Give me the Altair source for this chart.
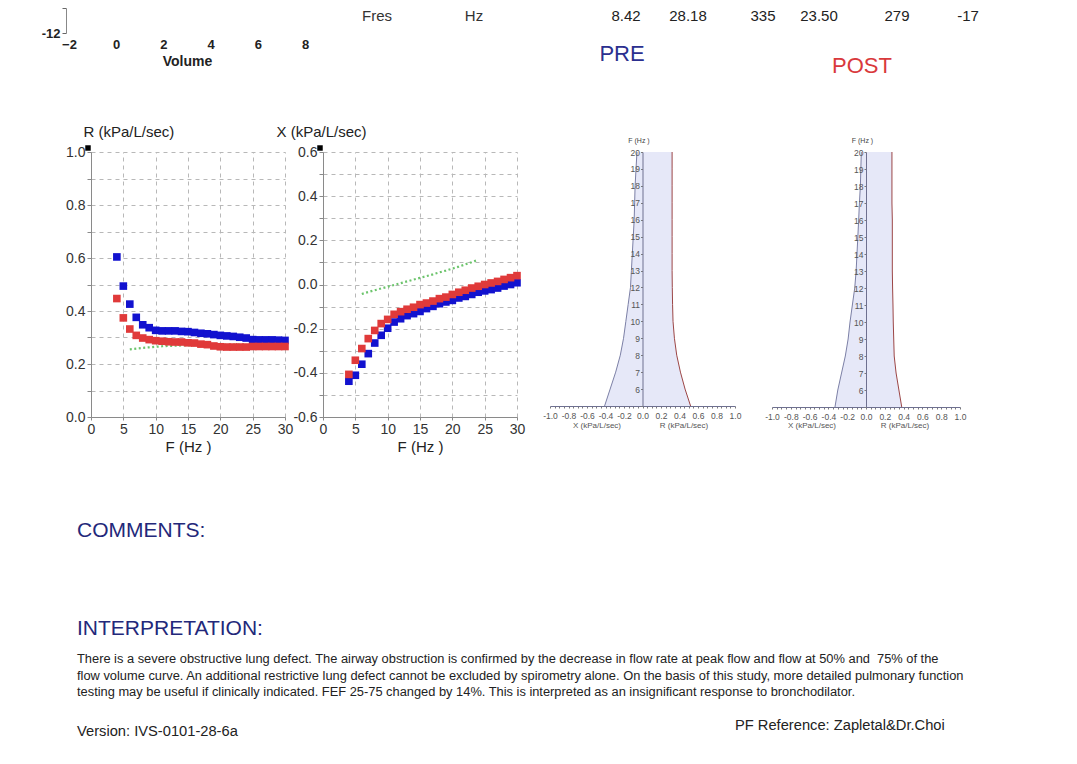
import altair as alt
import pandas as pd

W, H = 1061, 748
FONT = "Liberation Sans"

# ---------------- data ----------------
freq = list(range(4, 31))
r_pre = [0.604, 0.494, 0.426, 0.376, 0.348, 0.337, 0.327, 0.325, 0.325, 0.325, 0.323, 0.322, 0.319, 0.316,
         0.314, 0.311, 0.308, 0.306, 0.304, 0.301, 0.298, 0.292, 0.291, 0.291, 0.291, 0.290, 0.289]
r_post = [0.447, 0.374, 0.332, 0.308, 0.298, 0.292, 0.288, 0.286, 0.284, 0.283, 0.283, 0.280, 0.279, 0.275,
          0.273, 0.268, 0.265, 0.264, 0.264, 0.264, 0.264, 0.266, 0.266, 0.266, 0.266, 0.266, 0.266]
x_pre = [-0.438, -0.411, -0.361, -0.313, -0.265, -0.230, -0.198, -0.170, -0.155, -0.141, -0.132, -0.122, -0.109,
         -0.099, -0.087, -0.079, -0.072, -0.061, -0.054, -0.045, -0.035, -0.029, -0.023, -0.016, -0.007, 0.000, 0.008]
x_post = [-0.407, -0.343, -0.290, -0.245, -0.208, -0.177, -0.158, -0.135, -0.123, -0.112, -0.103, -0.091, -0.084,
          -0.075, -0.064, -0.057, -0.045, -0.035, -0.026, -0.016, -0.008, 0.000, 0.007, 0.014, 0.023, 0.031, 0.040]

pred_freq = list(range(6, 25))
r_pred = [0.255, 0.258, 0.261, 0.263, 0.265, 0.267, 0.268, 0.269, 0.270, 0.270, 0.271, 0.271, 0.272, 0.272,
          0.272, 0.273, 0.273, 0.273, 0.274]
x_pred = [-0.043, -0.034, -0.026, -0.018, -0.010, -0.002, 0.006, 0.014, 0.022, 0.030, 0.038, 0.046, 0.055,
          0.063, 0.072, 0.081, 0.091, 0.101, 0.112]

zone_freq = list(range(5, 21))
pre_x_edge = [-0.41, -0.35, -0.29, -0.24, -0.205, -0.18, -0.155, -0.13, -0.12, -0.11, -0.10, -0.09, -0.085,
              -0.08, -0.07, -0.06]
pre_r_edge = [0.52, 0.46, 0.41, 0.37, 0.345, 0.33, 0.325, 0.322, 0.32, 0.32, 0.32, 0.32, 0.32, 0.32, 0.32, 0.32]
post_x_edge = [-0.33, -0.30, -0.26, -0.22, -0.19, -0.17, -0.145, -0.12, -0.105, -0.096, -0.087, -0.078, -0.07,
               -0.06, -0.055, -0.05]
post_r_edge = [0.38, 0.35, 0.32, 0.30, 0.295, 0.29, 0.287, 0.283, 0.28, 0.28, 0.28, 0.28, 0.276, 0.276, 0.276, 0.276]

volume_ticks = [-2, 0, 2, 4, 6, 8]
flow_ticks = [-12, -11]

header_names = ["Fres", "Hz"]
header_values = ["8.42", "28.18", "335", "23.50", "279", "-17"]
NB = "\u00a0"
interp_lines = [
    NB + "There is a severe obstructive lung defect. The airway obstruction is confirmed by the decrease in flow rate at peak flow and flow at 50% and" + NB + " 75% of the",
    "flow volume curve. An additional restrictive lung defect cannot be excluded by spirometry alone. On the basis of this study, more detailed pulmonary function",
    "testing may be useful if clinically indicated. FEF 25-75 changed by 14%. This is interpreted as an insignificant response to bronchodilator.",
]

BLUE = "#1212cf"
RED = "#e03a3a"
GREEN = "#6cc46c"

series_df_r = pd.DataFrame({"F": freq * 2, "v": r_pre + r_post, "series": ["PRE"] * len(freq) + ["POST"] * len(freq)})
series_df_x = pd.DataFrame({"F": freq * 2, "v": x_pre + x_post, "series": ["PRE"] * len(freq) + ["POST"] * len(freq)})
pred_df_r = pd.DataFrame({"F": pred_freq, "v": r_pred})
pred_df_x = pd.DataFrame({"F": pred_freq, "v": x_pred})

MINUS = "replace(format(datum.value, '.1f'), '\u2212', '-')"
FREQ_TICKS = [0, 5, 10, 15, 20, 25, 30]


def fx_chart(sdf, pdf, ydomain, xrange, yvals, ytitle, ytitle_x, corner):
    xs = alt.Scale(domain=[0, 30], range=xrange, nice=False, zero=False)
    ys = alt.Scale(domain=ydomain, range=[409, 144], nice=False, zero=False)
    common = dict(labelFont=FONT, labelFontSize=14, labelColor="#333", domainColor="#8a8a8a",
                  tickColor="#8a8a8a", gridDash=[4, 4], gridColor="#b8b8b8",
                  labelOverlap=False, labelFlush=False, labelBound=False,
                  titleFont=FONT, titleFontWeight="normal", titleColor="#222")
    xax = alt.Axis(orient="bottom", offset=-(H - 409), values=FREQ_TICKS, tickSize=3, grid=False,
                   labelPadding=2, title="F (Hz )", titleFontSize=15, titleY=29, titleBaseline="middle",
                   **common)
    xgrid = alt.Axis(orient="top", offset=-144, values=FREQ_TICKS, grid=True, labels=False, ticks=False,
                     domain=False, title=None, gridDash=[4, 4], gridColor="#b8b8b8")
    yax = alt.Axis(orient="left", offset=-xrange[0], values=yvals, tickSize=4, labelPadding=2, grid=True,
                   labelExpr="abs(round(datum.value*10)) % 2 == 0 ? " + MINUS + " : ''",
                   title=ytitle, titleAngle=0, titleAlign="left", titleBaseline="middle",
                   titleX=ytitle_x, titleY=123, titleFontSize=15, **common)
    pred = alt.Chart(pdf).mark_line(color=GREEN, strokeDash=[2, 2.5], strokeWidth=2.2).encode(
        x=alt.X("F:Q", scale=xs, axis=xgrid), y=alt.Y("v:Q", scale=ys, axis=yax))
    pts = alt.Chart(sdf).mark_square(size=58, opacity=1).encode(
        x=alt.X("F:Q", scale=xs, axis=xax), y=alt.Y("v:Q", scale=ys, axis=yax),
        color=alt.Color("series:N", scale=alt.Scale(domain=["PRE", "POST"], range=[BLUE, RED]), legend=None))
    mk = alt.Chart(pd.DataFrame({"F": [0], "v": [corner]})).mark_square(
        size=30, color="black", opacity=1, xOffset=-3, yOffset=-4).encode(
        x=alt.X("F:Q", scale=xs, axis=None), y=alt.Y("v:Q", scale=ys, axis=yax))
    return alt.layer(pred, pts, mk).resolve_axis(x="independent")


r_chart = fx_chart(series_df_r, pred_df_r, [0, 1.0], [83, 277], [i / 10 for i in range(0, 11)],
                   "R (kPa/L/sec)", -8, 1.0)
x_chart = fx_chart(series_df_x, pred_df_x, [-0.6, 0.6], [315, 509], [i / 10 for i in range(-6, 7)],
                   "X (kPa/L/sec)", -47, 0.6)


def zone_panel(xedge, redge, xrange, y0):
    zdf = pd.DataFrame({"F": zone_freq, "xe": xedge, "re": redge})
    xs = alt.Scale(domain=[-1, 1], range=xrange, nice=False, zero=False)
    ys = alt.Scale(domain=[5, 20], range=[y0, 144], nice=False, zero=False)
    zero_px = (xrange[0] + xrange[1]) / 2
    common = dict(labelFont=FONT, labelFontSize=8.5, labelColor="#555", domainColor="#6e7090",
                  tickColor="#7a7a7a", tickSize=2, grid=False, labelOverlap=False, labelFlush=False,
                  labelBound=False, titleFont=FONT, titleFontWeight="normal", titleColor="#444", zindex=1)
    xax = alt.Axis(orient="bottom", offset=-(H - y0), values=[round(-1 + 0.05 * i, 2) for i in range(41)],
                   labelExpr="abs(round(datum.value*20)) % 4 == 0 ? " + MINUS + " : ''",
                   labelPadding=3, title=None, **common)
    yax = alt.Axis(orient="left", offset=-zero_px, values=zone_freq, labelPadding=1,
                   labelExpr="datum.value >= 6 ? datum.label : ''",
                   title="F (Hz )", titleAngle=0, titleAlign="center", titleBaseline="middle",
                   titleX=-4, titleY=132, titleFontSize=7, **common)
    area = alt.Chart(zdf).mark_area(orient="horizontal", color="#e6e8f8", opacity=1).encode(
        y=alt.Y("F:Q", scale=ys, axis=yax), x=alt.X("xe:Q", scale=xs, axis=xax), x2="re:Q")
    left = alt.Chart(zdf).mark_line(color="#7c80a6", strokeWidth=1).encode(
        y=alt.Y("F:Q", scale=ys, axis=yax), x=alt.X("xe:Q", scale=xs, axis=xax), order="F:Q")
    right = alt.Chart(zdf).mark_line(color="#9c4646", strokeWidth=1).encode(
        y=alt.Y("F:Q", scale=ys, axis=yax), x=alt.X("re:Q", scale=xs, axis=xax), order="F:Q")
    return alt.layer(area, left, right)


pre_panel = zone_panel(pre_x_edge, pre_r_edge, [542, 727], 398)
post_panel = zone_panel(post_x_edge, post_r_edge, [764, 952], 399)

# partial flow-volume chart at the very top (cut off)
vol_df = pd.DataFrame({"Volume": [volume_ticks[0], volume_ticks[-1]], "Flow": [flow_ticks[0], flow_ticks[0]]})
vxs = alt.Scale(domain=[-2, 8], range=[61, 297], nice=False, zero=False)
vys = alt.Scale(domain=[-12, -11], range=[25, 0], nice=False, zero=False)
vol_chart = alt.Chart(vol_df).mark_point(opacity=0).encode(
    x=alt.X("Volume:Q", scale=vxs, axis=alt.Axis(
        orient="bottom", offset=-(H - 25), values=volume_ticks, domain=False, ticks=False, grid=False,
        labelFont=FONT, labelFontSize=13, labelFontWeight="bold", labelColor="#222", labelPadding=5,
        labelFlush=False, labelOverlap=False, title="Volume", titleFont=FONT, titleFontSize=14,
        titleFontWeight="bold", titleColor="#222", titleY=28, titleBaseline="middle")),
    y=alt.Y("Flow:Q", scale=vys, axis=alt.Axis(
        orient="left", offset=-58, values=flow_ticks, grid=False, domainColor="#888", tickColor="#666",
        tickSize=4, labelFont=FONT, labelFontSize=13, labelFontWeight="bold", labelColor="#222",
        labelPadding=2, labelExpr="datum.value == -12 ? '-12' : ''", labelFlush=False, title=None)),
)


def label(text, x, y, size, color="#222", align="center", weight="normal", line_height=None):
    kw = dict(text=text, align=align, baseline="middle", fontSize=size, color=color, font=FONT,
              fontWeight=weight)
    if line_height is not None:
        kw["lineHeight"] = line_height
    return alt.Chart(alt.Data(values=[{}])).mark_text(**kw).encode(x=alt.value(x - 8), y=alt.value(y - 8))


texts = [
    label(header_names[0], 377, 16, 15, "#333"),
    label(header_names[1], 474, 16, 15, "#333"),
]
for val, cx in zip(header_values, [626, 688, 763, 819, 897, 968]):
    texts.append(label(val, cx, 16, 15, "#222"))
texts += [
    label("PRE", 622, 54, 22, "#2b2f8f"),
    label("POST", 862, 66, 22, "#d9393c"),
    label("X (kPa/L/sec)", 597, 426, 8, "#555"),
    label("R (kPa/L/sec)", 684, 426, 8, "#555"),
    label("X (kPa/L/sec)", 812, 426, 8, "#555"),
    label("R (kPa/L/sec)", 905, 426, 8, "#555"),
    label("COMMENTS:", 77, 531, 21, "#23287a", align="left"),
    label("INTERPRETATION:", 77, 629, 21, "#23287a", align="left"),
    label(interp_lines, 77, 659, 12.85, "#222", align="left", line_height=16.5),
    label("Version: IVS-0101-28-6a", 77, 732, 14.7, "#222", align="left"),
    label("PF Reference: Zapletal&Dr.Choi", 735, 726, 14.7, "#222", align="left"),
]

chart = alt.layer(vol_chart, r_chart, x_chart, pre_panel, post_panel, *texts).resolve_scale(
    x="independent", y="independent", color="independent").resolve_axis(
    x="independent", y="independent").properties(
    width=W, height=H, padding=0, autosize="none").configure_view(stroke=None)

chart.save("out.html", embed_options={"renderer": "svg", "actions": False})
